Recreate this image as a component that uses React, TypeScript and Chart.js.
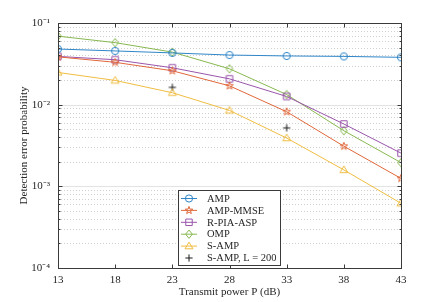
import React, { useEffect, useRef } from 'react';
import { Chart, registerables } from 'chart.js';
Chart.register(...registerables);

const powerDb = [13, 18, 23, 28, 33, 38, 43];
const amp = [0.048, 0.0455, 0.043, 0.0405, 0.0395, 0.039, 0.038];
const ampMmse = [0.0385, 0.033, 0.026, 0.017, 0.0082, 0.0031, 0.00125];
const rPiaAsp = [0.039, 0.0355, 0.0283, 0.0207, 0.0126, 0.0058, 0.00255];
const omp = [0.069, 0.0575, 0.044, 0.0275, 0.0133, 0.0048, 0.00195];
const sAmp = [0.0248, 0.0198, 0.014, 0.0085, 0.0039, 0.00159, 0.00062];
const sAmpL200Power = [23, 33];
const sAmpL200 = [0.0163, 0.0052];

const xTickValues = [13, 18, 23, 28, 33, 38, 43];
const yDecades = [1e-4, 1e-3, 1e-2, 1e-1];
const yDecadeLabels = ['10⁻⁴', '10⁻³', '10⁻²', '10⁻¹'];

const seriesNames = ['AMP', 'AMP-MMSE', 'R-PIA-ASP', 'OMP', 'S-AMP', 'S-AMP, L = 200'];
const seriesColors = ['#2f86c8', '#e0673a', '#9a55ab', '#88b850', '#f0bd42', '#1a1a1a'];
const seriesMarkers = ['circle', 'star5', 'rect', 'diamond', 'triangle', 'plus'];

const FONT = '"Liberation Serif", "Times New Roman", serif';
const TEXT = '#262626';

function markerPath(ctx: CanvasRenderingContext2D, kind: string, x: number, y: number, r: number) {
  ctx.beginPath();
  if (kind === 'circle') {
    ctx.arc(x, y, r, 0, Math.PI * 2);
  } else if (kind === 'rect') {
    const s = r * 0.9;
    ctx.rect(x - s, y - s, 2 * s, 2 * s);
  } else if (kind === 'diamond') {
    ctx.moveTo(x, y - r * 1.15);
    ctx.lineTo(x + r * 0.95, y);
    ctx.lineTo(x, y + r * 1.15);
    ctx.lineTo(x - r * 0.95, y);
    ctx.closePath();
  } else if (kind === 'triangle') {
    ctx.moveTo(x, y - r * 1.1);
    ctx.lineTo(x + r * 1.1, y + r * 0.75);
    ctx.lineTo(x - r * 1.1, y + r * 0.75);
    ctx.closePath();
  } else if (kind === 'star5') {
    for (let k = 0; k < 10; k++) {
      const a = -Math.PI / 2 + (k * Math.PI) / 5;
      const rr = k % 2 === 0 ? r * 1.1 : r * 0.45;
      const px = x + rr * Math.cos(a);
      const py = y + rr * Math.sin(a);
      if (k === 0) ctx.moveTo(px, py);
      else ctx.lineTo(px, py);
    }
    ctx.closePath();
  } else if (kind === 'plus') {
    ctx.moveTo(x - r, y);
    ctx.lineTo(x + r, y);
    ctx.moveTo(x, y - r);
    ctx.lineTo(x, y + r);
  }
}

function makeMarkerCanvas(kind: string, color: string, r: number): HTMLCanvasElement {
  const size = Math.ceil(r * 2.6) + 2;
  const c = document.createElement('canvas');
  c.width = size;
  c.height = size;
  const ctx = c.getContext('2d')!;
  ctx.strokeStyle = color;
  ctx.lineWidth = 1;
  markerPath(ctx, kind, size / 2, size / 2, r);
  ctx.stroke();
  return c;
}

export default function App() {
  const ref = useRef<HTMLCanvasElement | null>(null);

  useEffect(() => {
    const canvas = ref.current;
    if (!canvas) return;
    const R = 3.6;
    const markerImgs = seriesMarkers.map((m, i) => makeMarkerCanvas(m, seriesColors[i], R));

    const lineSeries = [amp, ampMmse, rPiaAsp, omp, sAmp];
    const datasets: any[] = lineSeries.map((vals, i) => ({
      label: seriesNames[i],
      data: powerDb.map((p, j) => ({ x: p, y: vals[j] })),
      borderColor: seriesColors[i],
      borderWidth: 1,
      pointStyle: markerImgs[i],
      pointRadius: R,
      showLine: true,
      fill: false,
      tension: 0,
    }));
    datasets.push({
      label: seriesNames[5],
      data: sAmpL200Power.map((p, j) => ({ x: p, y: sAmpL200[j] })),
      borderColor: seriesColors[5],
      pointStyle: markerImgs[5],
      pointRadius: R,
      showLine: false,
    });

    const allLogTicks: number[] = [];
    for (let e = -4; e <= -1; e++) {
      for (let m = 1; m <= 9; m++) {
        const v = m * Math.pow(10, e);
        if (v <= 0.1 + 1e-12) allLogTicks.push(v);
      }
    }
    const isDecade = (v: number) => yDecades.some((d) => Math.abs(v / d - 1) < 1e-6);

    const framePlugin = {
      id: 'matlabFrame',
      beforeDatasetsDraw(chart: any) {
        const { ctx, chartArea: a, scales } = chart;
        const ys = scales.y;
        ctx.save();
        ctx.lineWidth = 1;
        for (const v of allLogTicks) {
          const py = Math.round(ys.getPixelForValue(v)) + 0.5;
          if (py <= a.top + 1 || py >= a.bottom - 1) continue;
          ctx.beginPath();
          if (isDecade(v)) {
            ctx.setLineDash([]);
            ctx.strokeStyle = '#e3e3e3';
          } else {
            ctx.setLineDash([1, 2]);
            ctx.strokeStyle = '#cfcfcf';
          }
          ctx.moveTo(a.left, py);
          ctx.lineTo(a.right, py);
          ctx.stroke();
        }
        ctx.restore();
      },
      afterDraw(chart: any) {
        const { ctx, chartArea: a, scales } = chart;
        const xs = scales.x;
        const ys = scales.y;
        ctx.save();
        ctx.setLineDash([]);
        ctx.lineWidth = 1;
        ctx.strokeStyle = '#3a3a3a';
        const L = Math.round(a.left) + 0.5;
        const Rr = Math.round(a.right) + 0.5;
        const T = Math.round(a.top) + 0.5;
        const B = Math.round(a.bottom) + 0.5;
        ctx.strokeRect(L, T, Rr - L, B - T);
        ctx.beginPath();
        for (const v of xTickValues) {
          const px = Math.round(xs.getPixelForValue(v)) + 0.5;
          ctx.moveTo(px, B);
          ctx.lineTo(px, B - 4);
          ctx.moveTo(px, T);
          ctx.lineTo(px, T + 4);
        }
        for (const v of allLogTicks) {
          const py = Math.round(ys.getPixelForValue(v)) + 0.5;
          const len = isDecade(v) ? 4 : 2;
          ctx.moveTo(L, py);
          ctx.lineTo(L + len, py);
          ctx.moveTo(Rr, py);
          ctx.lineTo(Rr - len, py);
        }
        ctx.stroke();

        // legend
        const bx = 178.5, by = 190.5, bw = 102, bh = 75;
        ctx.fillStyle = '#ffffff';
        ctx.fillRect(bx, by, bw, bh);
        ctx.strokeStyle = '#3a3a3a';
        ctx.strokeRect(bx, by, bw, bh);
        ctx.font = '10.5px ' + FONT;
        ctx.textBaseline = 'middle';
        ctx.textAlign = 'left';
        for (let i = 0; i < seriesNames.length; i++) {
          const cy = 198.5 + i * 11.9;
          ctx.strokeStyle = seriesColors[i];
          ctx.lineWidth = 1;
          if (i < 5) {
            ctx.beginPath();
            ctx.moveTo(181, cy);
            ctx.lineTo(197, cy);
            ctx.stroke();
          }
          markerPath(ctx, seriesMarkers[i], 189, cy, R);
          ctx.stroke();
          ctx.fillStyle = TEXT;
          ctx.fillText(seriesNames[i], 207, cy + 0.5);
        }
        ctx.restore();
      },
    };

    const chart = new Chart(canvas, {
      type: 'line',
      data: { datasets },
      options: {
        animation: false,
        responsive: false,
        layout: { padding: { left: 0, top: 23, right: 42, bottom: 0 } },
        plugins: { legend: { display: false }, tooltip: { enabled: false } },
        scales: {
          x: {
            type: 'linear',
            min: 13,
            max: 43,
            afterBuildTicks: (s: any) => {
              s.ticks = xTickValues.map((v) => ({ value: v }));
            },
            afterFit: (s: any) => {
              s.height = 34;
            },
            ticks: {
              autoSkip: false,
              maxRotation: 0,
              padding: 6,
              color: TEXT,
              font: { family: FONT, size: 11 },
            },
            grid: { display: false, drawTicks: false, tickLength: 0 },
            border: { display: false },
            title: {
              display: true,
              text: 'Transmit power P (dB)',
              color: TEXT,
              font: { family: FONT, size: 11 },
              padding: { top: 0, bottom: 3 },
            },
          },
          y: {
            type: 'logarithmic',
            min: 1e-4,
            max: 1e-1,
            afterBuildTicks: (s: any) => {
              s.ticks = allLogTicks.map((v) => ({ value: v }));
            },
            afterFit: (s: any) => {
              s.width = 58;
            },
            ticks: {
              autoSkip: false,
              padding: 8,
              color: TEXT,
              font: { family: FONT, size: 11 },
              callback: (v: any) => {
                const idx = yDecades.findIndex((d) => Math.abs(Number(v) / d - 1) < 1e-6);
                return idx >= 0 ? yDecadeLabels[idx] : '';
              },
            },
            grid: { display: false, drawTicks: false, tickLength: 0 },
            border: { display: false },
            title: {
              display: true,
              text: 'Detection error probability',
              color: TEXT,
              font: { family: FONT, size: 11 },
              padding: { top: 18, bottom: 0 },
            },
          },
        },
      },
      plugins: [framePlugin],
    } as any);

    return () => chart.destroy();
  }, []);

  return (
    <div style={{ position: 'fixed', left: 0, top: 0, width: 443, height: 302, background: '#fff' }}>
      <canvas ref={ref} width={443} height={302} style={{ width: 443, height: 302 }} />
    </div>
  );
}
